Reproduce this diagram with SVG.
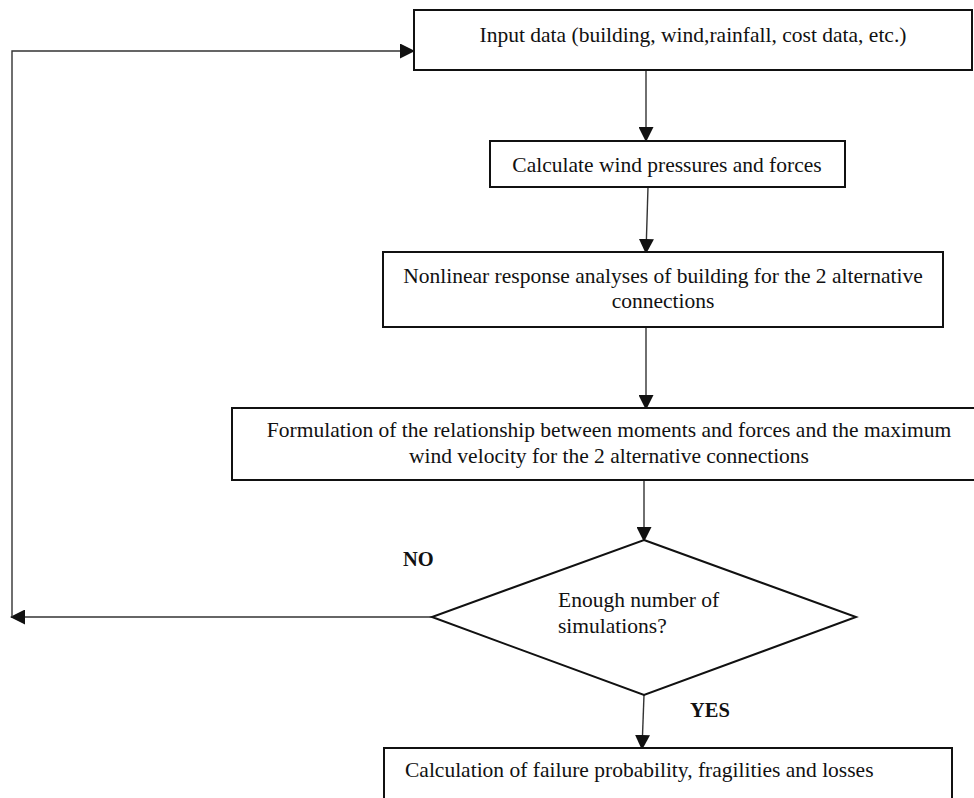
<svg xmlns="http://www.w3.org/2000/svg" width="974" height="798" viewBox="0 0 974 798">
<defs>
<marker id="ah" markerWidth="15" markerHeight="15" refX="14" refY="7.5" orient="auto" markerUnits="userSpaceOnUse">
<path d="M0,0 L15,7.5 L0,15 Z" fill="#111"/>
</marker>
<style>
.box{fill:#fff;stroke:#111;stroke-width:2}
.t{font-family:"Liberation Serif","Times New Roman",serif;font-size:21.5px;fill:#111}
.c{text-anchor:middle}
.b{font-weight:bold;font-size:20.5px}
.con{fill:none;stroke:#333;stroke-width:1.4}
</style>
</defs>
<rect width="974" height="798" fill="#fff"/>
<g id="connectors">
<line class="con" x1="432" y1="617" x2="11" y2="617" marker-end="url(#ah)"/>
<polyline class="con" points="12,617 12,51 414,51" marker-end="url(#ah)"/>
<line class="con" x1="646" y1="70" x2="646" y2="141" marker-end="url(#ah)"/>
<line class="con" x1="648" y1="187" x2="646" y2="253" marker-end="url(#ah)"/>
<line class="con" x1="646" y1="327" x2="646" y2="409" marker-end="url(#ah)"/>
<line class="con" x1="644" y1="480" x2="644" y2="541" marker-end="url(#ah)"/>
<line class="con" x1="644" y1="695" x2="642" y2="749" marker-end="url(#ah)"/>
</g>
<g id="input">
<rect class="box" x="414" y="10" width="558" height="60"/>
<text class="t c" x="693" y="42">Input data (building, wind,rainfall, cost data, etc.)</text>
</g>
<g id="calc-wind">
<rect class="box" x="490" y="141" width="355" height="46"/>
<text class="t c" x="667" y="172">Calculate wind pressures and forces</text>
</g>
<g id="nonlinear">
<rect class="box" x="383" y="252" width="560" height="75"/>
<text class="t c" x="663" y="283">Nonlinear response analyses of building for the 2 alternative</text>
<text class="t c" x="663" y="308">connections</text>
</g>
<g id="formulation">
<rect class="box" x="232" y="408" width="754" height="72"/>
<text class="t c" x="609" y="437">Formulation of the relationship between moments and forces and the maximum</text>
<text class="t c" x="609" y="463">wind velocity for the 2 alternative connections</text>
</g>
<g id="decision">
<polygon class="box" points="644,540 856,617 644,695 432,617"/>
<text class="t" x="558" y="607">Enough number of</text>
<text class="t" x="558" y="633">simulations?</text>
</g>
<g id="labels">
<text class="t b" x="403" y="566">NO</text>
<text class="t b" x="690" y="717">YES</text>
</g>
<g id="failure">
<rect class="box" x="384" y="748" width="568" height="70"/>
<text class="t" x="405" y="777">Calculation of failure probability, fragilities and losses</text>
</g>
</svg>
